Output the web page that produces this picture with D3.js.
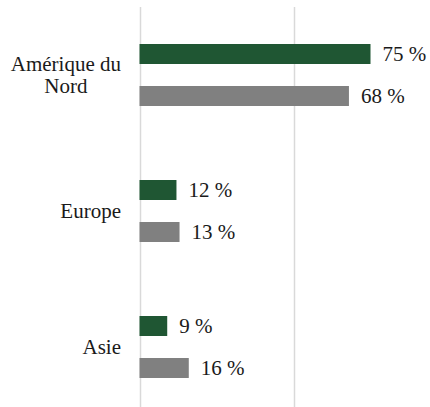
<!DOCTYPE html>
<html lang="fr">
<head>
    <meta charset="UTF-8">
    <title>Répartition par région</title>
    <script src="https://cdn.jsdelivr.net/npm/d3@7/dist/d3.min.js"></script>
    <style>
        body { margin: 0; background: #fff; }
        #chart { width: 430px; height: 407px; }
        text { font-family: "Liberation Serif", "Times New Roman", serif; font-size: 21px; fill: #1a1a1a; }
    </style>
</head>
<body>
<div id="chart"></div>
<script>
    // données
    var regions = ["Amérique du Nord", "Europe", "Asie"];
    var regionLines = [["Amérique du", "Nord"], ["Europe"], ["Asie"]];
    var series = ["a", "b"];
    var valuesA = [75, 12, 9];
    var valuesB = [68, 13, 16];
    var gridTicks = [0, 50, 100];
    var colors = ["#1f5633", "#808080"];

    var width = 430, height = 407;

    var svg = d3.select("#chart").append("svg")
        .attr("width", width)
        .attr("height", height);

    var x = d3.scaleLinear().domain([0, 100]).range([139.5, 447.5]);
    var y = d3.scaleBand().domain(regions).range([7, 415]);
    var ySub = d3.scaleBand().domain(series).range([0, y.bandwidth()])
        .paddingInner(0.524).paddingOuter(0.881);

    // lignes verticales
    svg.append("g").selectAll("line")
        .data(gridTicks)
        .enter()
        .append("line")
        .attr("x1", function (d) { return Math.round(x(d)) + 0.5; })
        .attr("x2", function (d) { return Math.round(x(d)) + 0.5; })
        .attr("y1", 7)
        .attr("y2", height)
        .attr("stroke", "#d9d9d9")
        .attr("stroke-width", 1.5);

    var rows = regions.map(function (r, i) {
        return {region: r, lines: regionLines[i], vals: [valuesA[i], valuesB[i]]};
    });

    var groups = svg.append("g").selectAll("g")
        .data(rows)
        .enter()
        .append("g")
        .attr("transform", function (d) { return "translate(0," + y(d.region) + ")"; });

    groups.selectAll("rect")
        .data(function (d) { return d.vals.map(function (v, j) { return {s: series[j], v: v, j: j}; }); })
        .enter()
        .append("rect")
        .attr("x", x(0))
        .attr("y", function (d) { return ySub(d.s); })
        .attr("width", function (d) { return x(d.v) - x(0); })
        .attr("height", ySub.bandwidth())
        .attr("fill", function (d) { return colors[d.j]; });

    // étiquettes de valeurs
    groups.selectAll("text.val")
        .data(function (d) { return d.vals.map(function (v, j) { return {s: series[j], v: v}; }); })
        .enter()
        .append("text")
        .attr("class", "val")
        .attr("x", function (d) { return x(d.v) + 12; })
        .attr("y", function (d) { return ySub(d.s) + ySub.bandwidth() / 2 + 7; })
        .text(function (d) { return d.v + " %"; });

    // étiquettes des catégories
    groups.each(function (d) {
        var g = d3.select(this);
        var c = y.bandwidth() / 2;
        var lh = 22;
        var t = g.append("text").attr("text-anchor", "middle");
        d.lines.forEach(function (l, k) {
            t.append("tspan")
                .attr("y", c + 7 + (k - (d.lines.length - 1) / 2) * lh)
                .text(l);
        });
        var maxW = 0;
        t.selectAll("tspan").each(function () {
            maxW = Math.max(maxW, this.getComputedTextLength());
        });
        t.selectAll("tspan").attr("x", 121 - maxW / 2);
    });
</script>
</body>
</html>
